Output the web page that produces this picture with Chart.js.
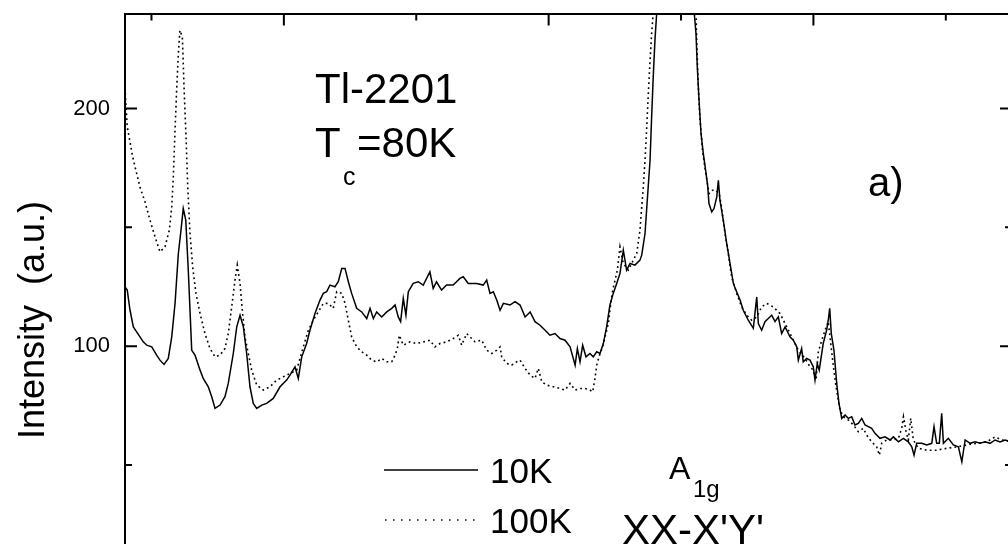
<!DOCTYPE html>
<html>
<head>
<meta charset="utf-8">
<script src="https://cdn.jsdelivr.net/npm/chart.js@4/dist/chart.umd.min.js"></script>
<style>
  html, body { margin: 0; padding: 0; background: #ffffff; overflow: hidden; }
  #wrap { position: absolute; left: 0; top: 0; width: 1016px; height: 640px; }
</style>
</head>
<body>
<div id="wrap"><canvas id="c"></canvas></div>
<script>
// ---- data (Raman shift in cm^-1, intensity in a.u.) ----
const shift10K = [80,81.7,83.8,86.3,88.8,91.3,93.8,96.4,100.2,103.9,106.4,109.5,112.7,115.3,117.8,120.3,122.3,124,125.9,127.8,130.4,132.9,136.7,139.1,142.9,145.5,148,151.8,155.5,158,161.8,164.4,166.9,169.4,171.9,174.4,176.9,179.5,183.3,187,192,197.1,202.1,204.6,208.4,210.9,213.5,217.2,219.7,223.5,227.3,229.8,232.3,234.8,238.6,241.1,243.7,246.2,248.7,251.2,255,258.8,262.6,265.1,267.6,270.1,273.9,277.7,281.5,284,286.4,288.2,290.2,292.2,294,297.7,301.5,305.3,310.3,312.8,315.3,319.1,322.9,327.9,330.4,333,335.5,339.3,345.6,350.6,353.2,355.7,358.2,360.8,363.3,365.8,370.8,374.6,378.4,382.2,386,389.7,393.5,397.3,401,404.8,408.6,412.4,416.2,420,421.7,423.7,425.7,428.2,431.2,433.7,436.3,438.8,441.3,443.8,446.3,448.8,451.4,453.9,456.4,458.9,461.5,465.2,469,470.3,472.8,474.5,476.6,477.8,479,480.3,481.6,485.6,491.7,497.7,503.8,510,511.3,512.3,513.6,515.1,516.8,518.9,520.2,521.1,523.2,524.9,527,528.2,529.4,531.9,534.5,537,539.5,542,544.6,547,550.8,554.6,557.2,558.4,560.9,563.4,565.9,568.5,571,573.5,576,578.6,582.3,584.8,587.4,588.6,591.1,592.3,594.9,597.4,599.9,601.2,602.9,604.4,607.4,610,611.2,612.3,613.5,615.5,617.6,619.3,621.4,623.9,626.4,628.9,631.4,633.9,636.5,639,641.5,644,646.5,650.3,654.1,657.9,660.4,664.2,667.9,671.7,674.3,676,678,681.8,685.6,689.4,691.1,693.1,695.1,696.9,698.2,701.9,705.7,709.5,712.1,714.6,718.4,722.1,725.9,729.7,733.4,737.2,741,744.7,750];
const intensity10K = [124.9,123.6,115.1,108.1,106,103.9,101.8,100.4,99.7,96.2,94.1,92.3,94.8,103.9,118,139,148.8,157.9,153,132,98.3,96.2,89.9,86.4,82.9,78.7,73.8,75.2,78.7,84.3,96.9,108.1,113,108.1,96.9,82.9,75.9,73.8,75.2,75.9,78,82.9,85.7,87.8,91.3,86.4,95.5,101.1,106.7,113.7,119.4,122.2,122.9,125.7,125,127.1,132.7,132.7,127.1,122.2,115.9,114.4,111.6,115.9,111.6,114.4,112.3,114.4,115.9,117.3,112.3,110.3,120.1,113,122.9,126.4,127.1,125.7,131.3,124.3,127.1,123.6,125.7,125.7,127.1,128.5,129.2,126.4,126.4,125.7,127.8,122.2,122.9,119.4,115.1,118,117.3,118.7,117.3,112.3,114.4,110.3,108.8,106.7,104.6,105.3,103.2,102.5,99.7,92,99,93.4,100.4,95.5,96.9,95.5,97.6,96.9,101.1,108.1,117.3,122.2,126.4,130.6,140.4,132,134.8,134.1,136.2,138.3,147.4,161.4,178.2,196.5,213.3,228.7,240,275,305,315,300,240,231.6,217.5,203.5,189.5,181.1,172.7,167,160,156.5,157.9,162.8,169.8,161.4,153,143.2,134.8,126.4,122.9,119.4,115.1,110.9,107.5,120.7,109.5,106.7,110.3,111.6,113,110.3,112.3,105.3,108.1,103.9,102.5,99.7,94.1,99,93.4,94.8,94.1,91.3,85.7,92.7,89.9,101.1,106.7,110.9,115.9,105.3,98.3,84.3,75.9,69.6,71,69.6,70.3,66.8,67.5,69.6,66.8,66.1,65.4,63.3,61.2,61.8,60.5,61.8,59.7,61.2,59.7,57.6,54.1,59.1,59.1,58.4,59.1,66.1,59.1,59.1,71.7,59.1,61.2,58.4,57.6,51.3,60.5,59.1,59.7,59.1,59.7,59.1,60.5,59.7,60.5,59.7];

const shift100K = [80,81.7,83.8,85.8,88.8,91.3,95.1,98.9,102.7,106.4,110.2,113.5,115.3,116.5,117.8,119.1,120.3,121.5,123.3,124.6,126.1,127.4,129.1,131.1,133.6,136.7,140.4,144.2,148,151.8,155.5,158,160.6,163.1,164.8,166.9,168.6,170.6,173.1,175.7,179.5,184.5,189.5,194.6,199.6,204.6,209.7,214.7,218.5,222.2,226,229.8,233.6,237.3,239.9,243.7,246.2,248.7,251.2,255,258.8,262.6,266.3,270.1,273.9,277.7,281.5,284,285.7,287.2,290.2,295.3,300.3,305.3,310.3,314.1,317.9,322.9,327.9,331.7,334.3,338.1,344.4,349.4,353.2,357,360.8,363.3,364.5,368.3,372.1,375.9,378.4,382.2,386,389.7,392.2,394.8,398.5,403.5,408.6,412.4,416.2,420,423.7,427.5,431.2,433.3,435,436.3,438.8,440.8,442.6,445.1,446.3,448.4,450.2,451.9,453.9,456.4,460.2,466.5,469,470.3,471.5,472.8,474.1,475.3,476.6,477.8,478.6,481,487.1,493.1,499.2,505.2,510.4,511.7,512.9,514.2,516.2,518.7,521.2,523.8,526.3,528.8,530.6,533.2,535.7,538.2,542,545.8,549.6,553.4,557.2,560.9,564.7,569.7,574.8,578.6,583.6,588.6,593.7,597.4,599.9,602,603.7,606.3,608.8,611.2,613.1,615.1,617.1,618.8,620.1,622.6,626.4,630.2,633.9,637.7,640.2,644,647.8,649.8,651.6,655.4,660.4,664.2,666.7,668,670,671.7,673.5,675.5,679.3,685.6,693.1,700.7,708.2,715.8,723.3,730.9,737.2,742.2,750];
const intensity100K = [208.5,192.3,185.9,179.6,172.7,167,160.7,153,146,139.7,141.8,148.8,158.6,171.2,190.9,209.1,223.1,232.9,230.1,209.1,188.1,167,147.4,133.4,122.2,113.7,105.3,99,95.5,96.2,99,105.3,116.5,127.8,134.1,126.4,115.1,103.9,96.9,89.9,83.6,81.5,82.9,85.7,87.1,88.5,89.9,99.7,106.7,110.9,114.4,118,118,115.9,122.9,122.2,118,110.9,103.9,99.7,97.6,96.2,94.1,93.4,94.8,93.4,93.4,96.2,99,104.6,100.4,101.8,101.1,101.8,102.5,99.7,101.1,101.8,103.2,104.6,100.4,105.3,101.8,102.5,98.3,96.9,98.3,99.7,95.5,92.7,92,93.4,94.1,90.6,87.8,86.4,90.6,85,83.6,82.9,82.2,81.5,84.3,81.5,82.2,82.2,81.5,80.8,86.4,92,96.9,99.7,103.9,109.5,115.1,123.6,127.8,132,141.8,134.8,132,139,148.8,158.6,167,178.2,192.3,206.3,220.3,231.6,237.2,260,290,310,318,300,260,231.6,210.5,196.5,182.5,172.7,164.2,165.6,165.6,164.2,158.6,147.4,139,129.2,122.2,116.5,113,110.9,112.3,116.5,118,116.5,113.7,109.5,103.9,98.3,94.8,91.3,89.9,85.7,97.6,102.5,106.7,110.3,101.1,91.3,82.9,77.3,73.1,70.3,68.9,66.8,64,65.4,62.6,59.7,57.6,54.1,59.1,60.5,60.5,61.2,65.4,70.3,64,60.5,69.6,60.5,57,56.2,56.2,57,57.6,58.4,59.1,59.7,61.8,60.5,59.7];

const yTickLabels = [100, 200];
const yMinorTicks = [50, 150];
const xMajorTicks = [200, 400, 600];
const xMinorTicks = [100, 300, 500, 700];
const seriesNames = ['10K', '100K'];

const FONT = '"Liberation Sans", Arial, Helvetica, sans-serif';

function pts(xs, ys) { return xs.map((x, i) => ({ x: x, y: ys[i] })); }

const framePlugin = {
  id: 'frame',
  afterDraw(chart) {
    const ctx = chart.ctx;
    const xs = chart.scales.x, ys = chart.scales.y;
    const a = chart.chartArea;
    ctx.save();
    ctx.strokeStyle = '#000';
    ctx.lineWidth = 2;
    ctx.lineCap = 'butt';
    ctx.beginPath();
    xMajorTicks.forEach(v => { const p = xs.getPixelForValue(v); ctx.moveTo(p, a.top); ctx.lineTo(p, a.top + 12); });
    xMinorTicks.forEach(v => { const p = xs.getPixelForValue(v); ctx.moveTo(p, a.top); ctx.lineTo(p, a.top + 7); });
    yTickLabels.forEach(v => { const p = ys.getPixelForValue(v); ctx.moveTo(a.left, p); ctx.lineTo(a.left + 12, p); ctx.moveTo(a.right, p); ctx.lineTo(a.right - 12, p); });
    yMinorTicks.forEach(v => { const p = ys.getPixelForValue(v); ctx.moveTo(a.left, p); ctx.lineTo(a.left + 7, p); ctx.moveTo(a.right, p); ctx.lineTo(a.right - 7, p); });
    ctx.stroke();

    // annotations
    ctx.fillStyle = '#000';
    ctx.textBaseline = 'alphabetic';
    ctx.textAlign = 'left';
    ctx.font = '42px ' + FONT;
    ctx.fillText('Tl-2201', 315, 103);
    ctx.fillText('T', 315, 157);
    ctx.fillText('=80K', 357, 157);
    ctx.font = '25px ' + FONT;
    ctx.fillText('c', 343, 185);
    ctx.font = '40px ' + FONT;
    ctx.fillText('a)', 868, 196);

    // legend
    ctx.font = '35px ' + FONT;
    ctx.fillText(seriesNames[0], 490, 483);
    ctx.fillText(seriesNames[1], 490, 533);
    ctx.lineWidth = 1.5;
    ctx.beginPath(); ctx.moveTo(384, 470); ctx.lineTo(478, 470); ctx.stroke();
    ctx.setLineDash([1.5, 6.5]);
    ctx.beginPath(); ctx.moveTo(385, 520); ctx.lineTo(476, 520); ctx.stroke();
    ctx.setLineDash([]);

    ctx.font = '32px ' + FONT;
    ctx.fillText('A', 669, 479);
    ctx.font = '24px ' + FONT;
    ctx.fillText('1g', 693, 497);
    ctx.font = '42px ' + FONT;
    ctx.fillText("XX-X'Y'", 622, 544);
    ctx.restore();
  }
};

new Chart(document.getElementById('c'), {
  type: 'line',
  data: {
    datasets: [
      { label: seriesNames[0], data: pts(shift10K, intensity10K), borderColor: '#000', borderWidth: 1.5, pointRadius: 0, tension: 0, fill: false },
      { label: seriesNames[1], data: pts(shift100K, intensity100K), borderColor: '#000', borderWidth: 1.6, borderDash: [1.8, 3.2], pointRadius: 0, tension: 0, fill: false }
    ]
  },
  options: {
    responsive: true,
    maintainAspectRatio: false,
    animation: false,
    devicePixelRatio: 1,
    layout: { padding: { left: 0, right: 0, top: 0, bottom: 13.5 } },
    plugins: { legend: { display: false }, tooltip: { enabled: false } },
    scales: {
      x: {
        type: 'linear', position: 'top', min: 80, max: 750,
        ticks: { display: false },
        grid: { display: false },
        border: { display: true, color: '#000', width: 2 },
        afterFit(s) { s.height = 13.5; }
      },
      y: {
        type: 'linear', position: 'left', min: -18, max: 240,
        afterBuildTicks(s) { s.ticks = yTickLabels.map(v => ({ value: v })); },
        ticks: { color: '#000', padding: 0, font: { family: FONT, size: 22 } },
        grid: { display: false, drawTicks: true, tickLength: 15, tickColor: 'rgba(0,0,0,0)' },
        border: { display: true, color: '#000', width: 2 },
        title: { display: true, text: 'Intensity  (a.u.)', color: '#000', font: { family: FONT, size: 36 }, padding: { top: 12, bottom: 0 } },
        afterFit(s) { s.width = 125; }
      },
      y2: {
        type: 'linear', position: 'right', min: -18, max: 240,
        ticks: { display: false },
        grid: { display: false, drawTicks: false },
        border: { display: true, color: '#000', width: 2 },
        afterFit(s) { s.width = 4; }
      }
    }
  },
  plugins: [framePlugin]
});
</script>
</body>
</html>
